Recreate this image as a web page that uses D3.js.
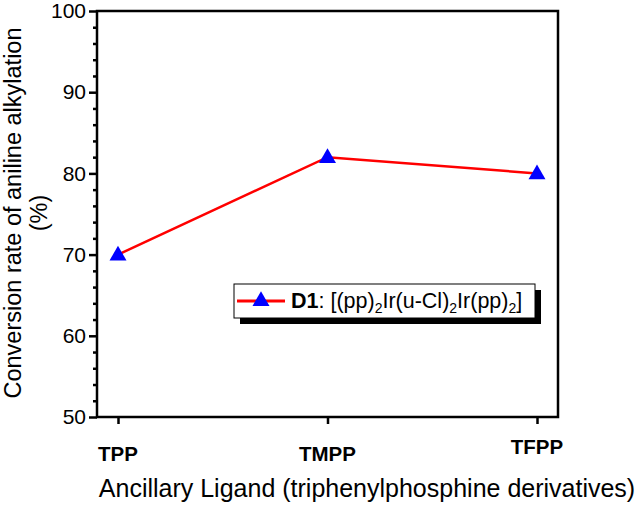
<!DOCTYPE html>
<html lang="en">
<head>
<meta charset="utf-8">
<title>Conversion rate of aniline alkylation</title>
<script src="https://d3js.org/d3.v7.min.js"></script>
<style>
  body { margin: 0; background: #fff; }
  text { font-family: "Liberation Sans", Arial, sans-serif; }
</style>
</head>
<body>
<script>
 var ligands = ["TPP", "TMPP", "TFPP"];
 var conversion = [70, 82, 80];
 var yTicks = [50, 60, 70, 80, 90, 100];
 var labelShift = [0, 0, -7]; // TFPP label sits higher in the original

 var W = 641, H = 505;
 var pLeft = 97, pRight = 558, pTop = 11, pBottom = 417;

 var svg = d3.select("body").append("svg")
     .attr("width", W).attr("height", H);

 var x = d3.scalePoint().domain(ligands).range([118, 537]);
 var y = d3.scaleLinear().domain([50, 100]).range([pBottom, pTop]);

 // frame
 svg.append("rect")
    .attr("x", pLeft).attr("y", pTop)
    .attr("width", pRight - pLeft).attr("height", pBottom - pTop)
    .attr("fill", "none").attr("stroke", "#000").attr("stroke-width", 2.5);

 // y axis major
 var yAxis = svg.append("g")
    .attr("transform", "translate(" + pLeft + ",0)")
    .call(d3.axisLeft(y).tickValues(yTicks).tickSize(8).tickPadding(3));
 yAxis.select(".domain").remove();
 yAxis.selectAll("line").attr("stroke-width", 2.5);
 yAxis.selectAll("text").style("font-size", "21px").attr("fill", "#000");

 // y axis minor
 var minor = d3.range(52, 100, 2).filter(function (v) { return v % 10 != 0; });
 var yMinor = svg.append("g")
    .attr("transform", "translate(" + pLeft + ",0)")
    .call(d3.axisLeft(y).tickValues(minor).tickSize(4).tickFormat(""));
 yMinor.select(".domain").remove();
 yMinor.selectAll("line").attr("stroke-width", 2.5);

 // x axis
 var xAxis = svg.append("g")
    .attr("transform", "translate(0," + pBottom + ")")
    .call(d3.axisBottom(x).tickSize(7).tickFormat(""));
 xAxis.select(".domain").remove();
 xAxis.selectAll("line").attr("stroke-width", 2.5);

 svg.selectAll(".xlab")
    .data(ligands)
    .enter().append("text")
    .attr("class", "xlab")
    .attr("x", function (d) { return x(d); })
    .attr("y", function (d, i) { return 461 + labelShift[i]; })
    .attr("text-anchor", "middle")
    .style("font-size", "20.5px")
    .style("font-weight", "bold")
    .text(function (d) { return d; });

 // axis titles
 svg.append("text")
    .attr("x", 367).attr("y", 497)
    .attr("text-anchor", "middle")
    .style("font-size", "25px")
    .text("Ancillary Ligand (triphenylphosphine derivatives)");

 var yt = svg.append("text")
    .attr("transform", "translate(21," + ((pTop + pBottom) / 2 - 1) + ") rotate(-90)")
    .attr("text-anchor", "middle")
    .style("font-size", "23.5px");
 yt.append("tspan").attr("x", 0).attr("y", 0).text("Conversion rate of aniline alkylation");
 yt.append("tspan").attr("x", 0).attr("y", 26).text("(%)");

 // data line
 var pts = ligands.map(function (d, i) { return [x(d), y(conversion[i])]; });
 svg.append("path")
    .attr("d", d3.line()(pts))
    .attr("fill", "none").attr("stroke", "#ff0000").attr("stroke-width", 2.5);

 var tri = d3.symbol().type(d3.symbolTriangle).size(125);
 svg.selectAll(".pt")
    .data(pts)
    .enter().append("path")
    .attr("class", "pt")
    .attr("transform", function (d) { return "translate(" + d[0] + "," + (d[1] + 1) + ")"; })
    .attr("d", tri)
    .attr("fill", "#0000ff");

 // legend
 var lg = svg.append("g");
 lg.append("rect").attr("x", 240).attr("y", 290).attr("width", 301).attr("height", 34).attr("fill", "#000");
 lg.append("rect").attr("x", 234).attr("y", 284).attr("width", 301).attr("height", 34)
   .attr("fill", "#fff").attr("stroke", "#000").attr("stroke-width", 1);
 lg.append("line").attr("x1", 237).attr("x2", 285).attr("y1", 301).attr("y2", 301)
   .attr("stroke", "#ff0000").attr("stroke-width", 3);
 lg.append("path").attr("transform", "translate(261,301)").attr("d", tri).attr("fill", "#0000ff");
 var lt = lg.append("text").attr("x", 291).attr("y", 308).style("font-size", "21.5px");
 lt.append("tspan").style("font-weight", "bold").text("D1");
 lt.append("tspan").text(": [(pp)");
 lt.append("tspan").attr("dy", 5).style("font-size", "14px").text("2");
 lt.append("tspan").attr("dy", -5).text("Ir(u-Cl)");
 lt.append("tspan").attr("dy", 5).style("font-size", "14px").text("2");
 lt.append("tspan").attr("dy", -5).text("Ir(pp)");
 lt.append("tspan").attr("dy", 5).style("font-size", "14px").text("2");
 lt.append("tspan").attr("dy", -5).text("]");
</script>
</body>
</html>
